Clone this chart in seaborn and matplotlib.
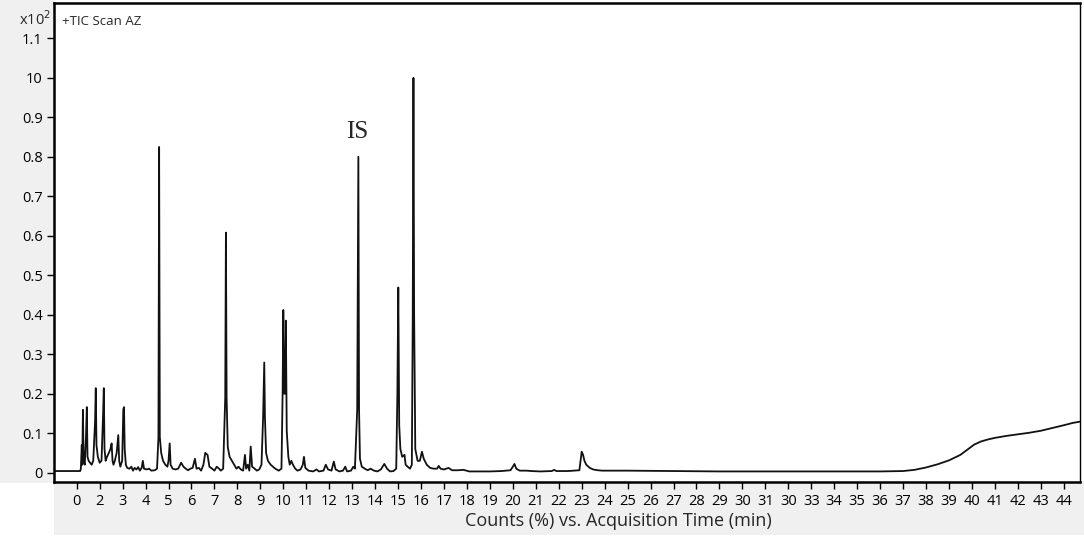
import matplotlib
matplotlib.use("Agg")
import matplotlib.pyplot as plt
import seaborn as sns
import pandas as pd
from matplotlib.patches import Rectangle

# ---- data (time in tick-position units) ----
time = [-0.92, 0.15, 0.18, 0.22, 0.24, 0.27, 0.30, 0.35, 0.40, 0.44, 0.47, 0.52, 0.58, 0.65, 0.72,
        0.80, 0.83, 0.86, 0.92, 1.00, 1.08, 1.15, 1.18, 1.21, 1.26, 1.32, 1.40, 1.47, 1.52, 1.56,
        1.60, 1.66, 1.74, 1.81, 1.85, 1.90, 1.98, 2.03, 2.06, 2.09, 2.14, 2.20, 2.30, 2.38, 2.45,
        2.52, 2.60, 2.68, 2.75, 2.83, 2.88, 2.93, 3.05, 3.15, 3.25, 3.40, 3.50, 3.56, 3.59, 3.62,
        3.68, 3.76, 3.86, 3.95, 4.00, 4.05, 4.09, 4.18, 4.30, 4.42, 4.55, 4.65, 4.75, 4.85, 4.95,
        5.05, 5.15, 5.22, 5.32, 5.42, 5.52, 5.60, 5.70, 5.78, 5.90, 6.00, 6.10, 6.20, 6.28, 6.38,
        6.47, 6.50, 6.53, 6.58, 6.66, 6.76, 6.86, 6.96, 7.05, 7.15, 7.25, 7.33, 7.38, 7.45, 7.52,
        7.58, 7.64, 7.75, 7.85, 7.95, 8.05, 8.12, 8.17, 8.20, 8.25, 8.33, 8.45, 8.55, 8.65, 8.80,
        8.92, 8.97, 9.00, 9.04, 9.08, 9.11, 9.15, 9.22, 9.28, 9.35, 9.42, 9.52, 9.62, 9.75, 9.85,
        9.90, 9.96, 10.10, 10.30, 10.45, 10.55, 10.75, 10.85, 10.95, 11.10, 11.20, 11.28, 11.45,
        11.60, 11.70, 11.78, 11.95, 12.05, 12.12, 12.22, 12.27, 12.30, 12.34, 12.42, 12.55, 12.68,
        12.80, 12.95, 13.10, 13.25, 13.40, 13.52, 13.65, 13.80, 13.92, 13.97, 14.01, 14.05, 14.10,
        14.18, 14.28, 14.33, 14.42, 14.52, 14.60, 14.64, 14.67, 14.70, 14.75, 14.85, 14.95, 15.04,
        15.12, 15.25, 15.40, 15.55, 15.70, 15.77, 15.85, 16.00, 16.20, 16.35, 16.60, 16.85, 17.10,
        17.50, 18.00, 18.50, 18.90, 19.00, 19.07, 19.15, 19.30, 19.60, 19.80, 20.20, 20.70, 20.80,
        20.90, 21.40, 21.90, 21.95, 22.00, 22.06, 22.12, 22.20, 22.35, 22.50, 22.70, 22.90, 24.00,
        26.00, 28.00, 30.00, 32.00, 34.00, 35.00, 36.00, 36.50, 37.00, 37.50, 38.00, 38.50, 38.80,
        39.10, 39.40, 39.70, 40.00, 40.50, 41.00, 41.50, 42.00, 42.50, 43.00, 43.40, 43.70]
counts = [0.004, 0.004, 0.010, 0.070, 0.020, 0.159, 0.030, 0.020, 0.085, 0.166, 0.040, 0.030, 0.025,
          0.020, 0.030, 0.130, 0.214, 0.070, 0.040, 0.025, 0.030, 0.150, 0.214, 0.060, 0.030, 0.040,
          0.050, 0.060, 0.074, 0.030, 0.020, 0.030, 0.050, 0.095, 0.030, 0.015, 0.030, 0.160, 0.166,
          0.060, 0.020, 0.012, 0.010, 0.015, 0.005, 0.012, 0.008, 0.014, 0.005, 0.012, 0.030, 0.010,
          0.008, 0.010, 0.005, 0.006, 0.010, 0.090, 0.825, 0.090, 0.050, 0.030, 0.020, 0.015, 0.030,
          0.074, 0.020, 0.010, 0.008, 0.010, 0.025, 0.015, 0.010, 0.006, 0.010, 0.012, 0.035, 0.010,
          0.012, 0.005, 0.020, 0.050, 0.045, 0.015, 0.010, 0.005, 0.015, 0.010, 0.005, 0.010, 0.190,
          0.608, 0.190, 0.065, 0.040, 0.030, 0.020, 0.010, 0.015, 0.008, 0.005, 0.045, 0.010, 0.020,
          0.005, 0.066, 0.015, 0.010, 0.005, 0.008, 0.020, 0.140, 0.279, 0.140, 0.050, 0.030, 0.020,
          0.015, 0.010, 0.005, 0.010, 0.200, 0.412, 0.200, 0.200, 0.385, 0.105, 0.040, 0.020, 0.030,
          0.020, 0.010, 0.005, 0.008, 0.020, 0.040, 0.012, 0.005, 0.003, 0.008, 0.003, 0.005, 0.020,
          0.008, 0.005, 0.028, 0.008, 0.003, 0.005, 0.015, 0.003, 0.005, 0.015, 0.010, 0.160, 0.800,
          0.160, 0.035, 0.015, 0.010, 0.006, 0.010, 0.005, 0.003, 0.008, 0.022, 0.010, 0.003, 0.004,
          0.010, 0.200, 0.469, 0.120, 0.060, 0.040, 0.045, 0.020, 0.015, 0.010, 0.020, 0.400, 1.000,
          0.400, 0.060, 0.030, 0.030, 0.053, 0.035, 0.020, 0.012, 0.010, 0.010, 0.017, 0.010, 0.008,
          0.012, 0.006, 0.006, 0.007, 0.003, 0.003, 0.003, 0.004, 0.006, 0.015, 0.022, 0.010, 0.005,
          0.005, 0.004, 0.003, 0.004, 0.007, 0.004, 0.004, 0.006, 0.030, 0.053, 0.045, 0.030, 0.020,
          0.012, 0.008, 0.006, 0.005, 0.005, 0.004, 0.003, 0.003, 0.003, 0.003, 0.003, 0.004, 0.007,
          0.013, 0.021, 0.031, 0.045, 0.058, 0.071, 0.079, 0.084, 0.088, 0.093, 0.097, 0.101, 0.106,
          0.113, 0.120, 0.126, 0.129]

x_tick_pos = list(range(44))
x_tick_labels = ["0", "2", "3", "4", "5", "6", "7", "8", "9", "10", "11", "12", "13", "14", "15",
                 "16", "17", "18", "19", "20", "21", "22", "23", "24", "25", "26", "27", "28", "29",
                 "30", "31", "30", "33", "34", "35", "36", "37", "38", "39", "40", "41", "42", "43", "44"]
y_tick_pos = [0, 0.1, 0.2, 0.3, 0.4, 0.5, 0.6, 0.7, 0.8, 0.9, 1.0, 1.1]
y_tick_labels = ["0", "0.1", "0.2", "0.3", "0.4", "0.5", "0.6", "0.7", "0.8", "0.9", "10", "1.1"]

df = pd.DataFrame({"time": time, "counts": counts})

sns.set_theme(style="ticks")
plt.rcParams["font.family"] = ["Open Sans", "DejaVu Sans"]

W, H = 1084, 538
fig = plt.figure(figsize=(W / 100, H / 100), dpi=100, facecolor="white")
gray = "#f0f0f0"
# gray panels (left strip and bottom strip), drawn behind the axes
fig.patches.append(Rectangle((0, (H - 483) / H), 54 / W, 483 / H, transform=fig.transFigure,
                             facecolor=gray, edgecolor="none", zorder=-10))
fig.patches.append(Rectangle((54 / W, 3 / H), (W - 54) / W, (535 - 481) / H, transform=fig.transFigure,
                             facecolor=gray, edgecolor="none", zorder=-10))

left, right, top, bottom = 54, 1080, 3.3, 481.7
ax = fig.add_axes([left / W, (H - bottom) / H, (right - left) / W, (bottom - top) / H])
ax.set_facecolor("white")

sns.lineplot(data=df, x="time", y="counts", ax=ax, color="#111111", linewidth=1.3,
             sort=False, estimator=None)

ax.set_xlim(-0.99, 43.71)
ax.set_ylim(-0.023, 1.189)
ax.set_xticks(x_tick_pos)
ax.set_xticklabels(x_tick_labels)
ax.set_yticks(y_tick_pos)
ax.set_yticklabels(y_tick_labels)
ax.tick_params(axis="both", direction="out", length=5, width=1, colors="black",
               labelsize=10.5, pad=3)
ax.tick_params(axis="x", pad=4)
ax.set_xlabel("")
ax.set_ylabel("")
for side in ["left", "bottom", "top"]:
    ax.spines[side].set_linewidth(1.8)
    ax.spines[side].set_color("black")
ax.spines["right"].set_linewidth(1.0)
ax.spines["right"].set_color("black")
ax.spines["right"].set_visible(True)
ax.spines["top"].set_visible(True)

ax.text(12.2, 0.863, "IS", fontsize=18, family="Liberation Serif", ha="center", va="center")
ax.text(0.008, 0.961, "+TIC Scan AZ", transform=ax.transAxes, fontsize=9.5, ha="left", va="center")

fig.text(51 / W, 1 - 20 / H, "x10$^2$", fontsize=10.5, ha="right", va="center")
fig.text(618 / W, 1 - 521 / H, "Counts (%) vs. Acquisition Time (min)", fontsize=13,
         ha="center", va="center")

fig.savefig("out.png", dpi=100, facecolor=fig.get_facecolor())
